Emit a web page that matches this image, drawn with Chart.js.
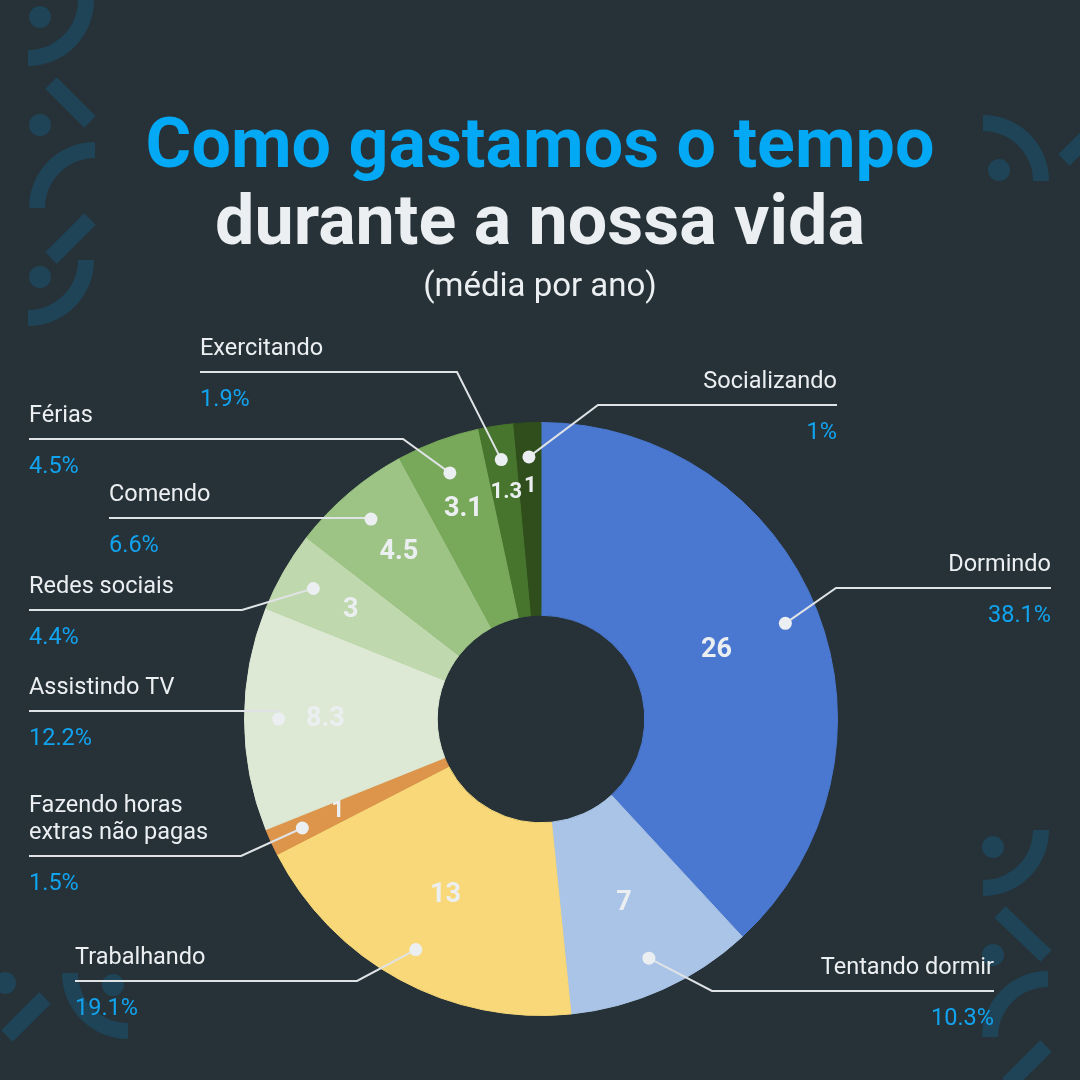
<!DOCTYPE html>
<html>
<head>
<meta charset="utf-8">
<script src="https://cdn.jsdelivr.net/npm/chart.js@4.4.1/dist/chart.umd.min.js"></script>
<style>
  html, body { margin: 0; padding: 0; background: #263238; }
  #wrap { width: 1080px; height: 1080px; position: relative; }
</style>
</head>
<body>
<div id="wrap"><canvas id="c" width="1080" height="1080"></canvas></div>
<script>
// ---- data ----
const categories = ["Dormindo", "Tentando dormir", "Trabalhando", "Fazendo horas extras não pagas", "Assistindo TV", "Redes sociais", "Comendo", "Férias", "Exercitando", "Socializando"];
const values = [26, 7, 13, 1, 8.3, 3, 4.5, 3.1, 1.3, 1];
const percentLabels = ["38.1%", "10.3%", "19.1%", "1.5%", "12.2%", "4.4%", "6.6%", "4.5%", "1.9%", "1%"];
const labelLines = [["Dormindo"], ["Tentando dormir"], ["Trabalhando"], ["Fazendo horas", "extras não pagas"], ["Assistindo TV"], ["Redes sociais"], ["Comendo"], ["Férias"], ["Exercitando"], ["Socializando"]];
const titleLine1 = "Como gastamos o tempo";
const titleLine2 = "durante a nossa vida";
const subtitle = "(média por ano)";

// ---- styles / layout ----
const colors = ["#4a78d0", "#a9c4e6", "#f8d878", "#dc954a", "#dde9d5", "#bfd8ad", "#9dc485", "#78a85a", "#47752d", "#2f4e1c"];
const BG = "#263238";
const DECO = "#1f4457";
const TEXT = "#eceff1";
const BLUE = "#12a3ef";
const LINE = "#dfe3e6";
// fraction of ring thickness (from inner edge) where the value text sits
const valueRadiusFrac = [0.44, 0.51, 0.5, 0.62, 0.58, 0.6, 0.6, 0.62, 0.65, 0.67];
const valueFontSize = [27, 27, 27, 23, 27, 27, 27, 27, 22, 22];
// label anchors: align, x (text edge), lineY, elbowX (null = straight to dot)
const labelLayout = [
  { align: "right", x: 1051, lineY: 588, elbowX: 836 },
  { align: "right", x: 994, lineY: 991, elbowX: 712 },
  { align: "left", x: 75, lineY: 981, elbowX: 357 },
  { align: "left", x: 29, lineY: 856, elbowX: 241 },
  { align: "left", x: 29, lineY: 711, elbowX: null },
  { align: "left", x: 29, lineY: 610, elbowX: 242 },
  { align: "left", x: 109, lineY: 518, elbowX: null },
  { align: "left", x: 29, lineY: 439, elbowX: 403 },
  { align: "left", x: 200, lineY: 372, elbowX: 457 },
  { align: "right", x: 837, lineY: 405, elbowX: 598 }
];

function drawDecorations(ctx) {
  ctx.save();
  ctx.fillStyle = DECO;
  ctx.strokeStyle = DECO;
  const dot = (x, y) => { ctx.beginPath(); ctx.arc(x, y, 11, 0, Math.PI * 2); ctx.fill(); };
  const ring = (cx, cy, a0, a1) => {
    ctx.beginPath();
    ctx.arc(cx, cy, 66, a0, a1);
    ctx.arc(cx, cy, 50, a1, a0, true);
    ctx.closePath();
    ctx.fill();
  };
  const bar = (x0, y0, x1, y1) => {
    ctx.lineWidth = 16; ctx.lineCap = "butt";
    ctx.beginPath(); ctx.moveTo(x0, y0); ctx.lineTo(x1, y1); ctx.stroke();
  };
  const D = Math.PI / 180;
  // left column
  dot(40, 17);
  ring(28, 0, 0, 90 * D);
  bar(51, 83, 90, 122);
  dot(40, 125);
  ring(95, 208, 180 * D, 270 * D);
  bar(90, 219, 51, 258);
  dot(40, 277);
  ring(28, 260, 0, 90 * D);
  // top right
  ring(983, 181, 270 * D, 360 * D);
  dot(999, 170);
  bar(1064, 160, 1100, 124);
  // bottom right
  dot(993, 847);
  ring(983, 830, 0, 90 * D);
  bar(1000, 912, 1046, 956);
  dot(993, 955);
  ring(1048, 1037, 180 * D, 270 * D);
  bar(1046, 1046, 1008, 1084);
  // bottom left
  dot(5, 983);
  bar(45, 998, 7, 1036);
  dot(113, 985);
  ring(128, 973, 90 * D, 180 * D);
  ctx.restore();
}

const decoPlugin = {
  id: "deco",
  beforeDraw(chart) {
    const ctx = chart.ctx;
    ctx.save();
    ctx.fillStyle = BG;
    ctx.fillRect(0, 0, chart.width, chart.height);
    ctx.restore();
    drawDecorations(ctx);
    // titles
    ctx.save();
    ctx.textAlign = "center";
    ctx.textBaseline = "alphabetic";
    ctx.font = "bold 70px Roboto";
    ctx.fillStyle = "#03a9f4";
    ctx.fillText(titleLine1, 540, 167);
    ctx.fillStyle = TEXT;
    ctx.fillText(titleLine2, 540, 244);
    ctx.font = "33px Roboto";
    ctx.fillText(subtitle, 540, 296);
    ctx.restore();
  }
};

const labelPlugin = {
  id: "labels",
  afterDatasetsDraw(chart) {
    const ctx = chart.ctx;
    const meta = chart.getDatasetMeta(0);
    ctx.save();
    meta.data.forEach((arc, i) => {
      const mid = (arc.startAngle + arc.endAngle) / 2;
      const inner = arc.innerRadius, outer = arc.outerRadius;
      // value text inside slice
      const rv = inner + (outer - inner) * valueRadiusFrac[i];
      const vx = arc.x + Math.cos(mid) * rv;
      const vy = arc.y + Math.sin(mid) * rv;
      ctx.fillStyle = TEXT;
      ctx.textAlign = "center";
      ctx.textBaseline = "middle";
      ctx.font = "bold " + valueFontSize[i] + "px Roboto";
      ctx.fillText(String(values[i]), vx, vy);
      // dot
      const rd = outer * 0.885;
      const dx = arc.x + Math.cos(mid) * rd;
      const dy = arc.y + Math.sin(mid) * rd;
      const L = labelLayout[i];
      ctx.strokeStyle = LINE;
      ctx.lineWidth = 2;
      ctx.beginPath();
      ctx.moveTo(L.x, L.lineY);
      if (L.elbowX !== null) {
        ctx.lineTo(L.elbowX, L.lineY);
      } else {
        ctx.lineTo(dx, L.lineY);
      }
      ctx.lineTo(dx, dy);
      ctx.stroke();
      ctx.fillStyle = TEXT;
      ctx.beginPath();
      ctx.arc(dx, dy, 6.5, 0, Math.PI * 2);
      ctx.fill();
      // label text
      ctx.textAlign = L.align;
      ctx.textBaseline = "alphabetic";
      ctx.font = "23.5px Roboto";
      ctx.fillStyle = TEXT;
      const lines = labelLines[i];
      for (let k = 0; k < lines.length; k++) {
        const by = L.lineY - 17 - (lines.length - 1 - k) * 27;
        ctx.fillText(lines[k], L.x, by);
      }
      ctx.fillStyle = BLUE;
      ctx.fillText(percentLabels[i], L.x, L.lineY + 34);
    });
    ctx.restore();
  }
};

new Chart(document.getElementById("c"), {
  type: "doughnut",
  data: {
    labels: categories,
    datasets: [{
      data: values,
      backgroundColor: colors,
      borderColor: colors,
      borderWidth: 1,
      hoverOffset: 0
    }]
  },
  options: {
    responsive: false,
    animation: false,
    cutout: "35%",
    layout: { padding: { left: 244, right: 242, top: 422, bottom: 64 } },
    plugins: {
      legend: { display: false },
      tooltip: { enabled: false },
      title: { display: false }
    },
    events: []
  },
  plugins: [decoPlugin, labelPlugin]
});
</script>
</body>
</html>
